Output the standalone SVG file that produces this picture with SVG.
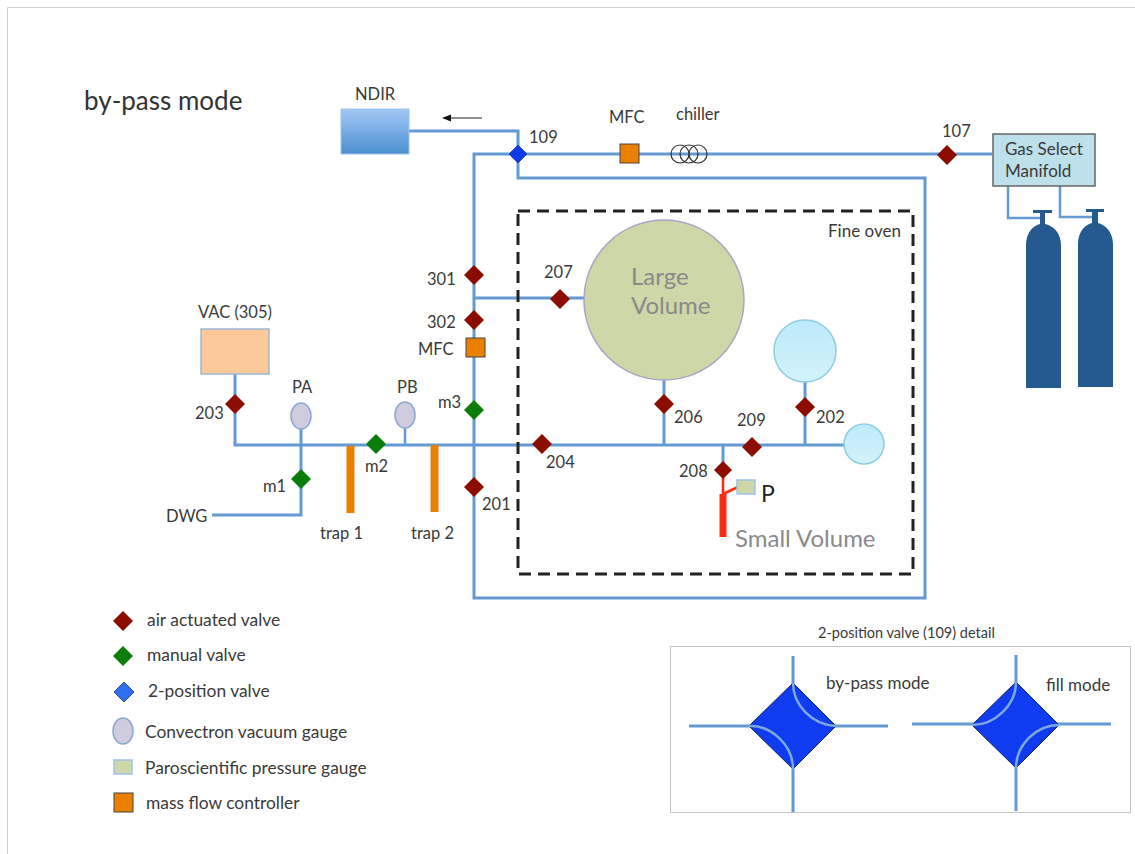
<svg xmlns="http://www.w3.org/2000/svg" width="1135" height="854" viewBox="0 0 1135 854">
<defs>
<linearGradient id="ndirG" x1="0" y1="0" x2="0" y2="1"><stop offset="0" stop-color="#a3c8f5"/><stop offset="1" stop-color="#4a8fd0"/></linearGradient>
<linearGradient id="sphG" x1="0" y1="0" x2="0" y2="1"><stop offset="0" stop-color="#bdeafa"/><stop offset="1" stop-color="#d3f2fb"/></linearGradient>
<polygon id="dia" points="0,-10 10,0 0,10 -10,0"/>
</defs>
<style>
text{font-family:Lato,"Open Sans",sans-serif;fill:#3a3a3a;font-size:16.5px}
.p{fill:none;stroke:#649ad2;stroke-width:3}
.ps{fill:none;stroke:#649ad2;stroke-width:2.500}
.a{fill:#8c0c00}
.m{fill:#0a7d0a}
.b{fill:#0f3cf0}
.mfc{fill:#ea7f00;stroke:#444;stroke-width:1}
.g{fill:#d0cce0;stroke:#8aa8d0;stroke-width:1.500}
.trap{fill:#ea7f00}
.cyl{fill:#255a90}
.arc{fill:none;stroke:#7da8da;stroke-width:2.500}
.big{font-size:24px;fill:#8a8a8a}
.mode{font-size:17px}
#legend text{font-size:17.400px}
</style>
<rect width="1135" height="854" fill="#fff"/>
<path d="M7.500 854V7.500H1135" fill="none" stroke="#cfcfcf"/>
<text x="84" y="110" style="font-size:26px;fill:#333">by-pass mode</text>
<g id="connectors">
<path class="p" d="M409 131H518V178H925V598H474V154H518M518 154H992"/>
<path class="p" d="M474 298H584"/>
<path class="p" d="M235 374V445H844"/>
<path class="p" d="M301 428V515H212"/>
<path class="ps" d="M405 428V445"/>
<path class="p" d="M664 372V445M805 380V445M723 445V470"/>
<path class="ps" d="M1008 186V218H1041M1060 186V217H1094"/>
<path d="M723 470V497" fill="none" stroke="#ff2a10" stroke-width="2.500"/>
<path d="M723 494L738 487" fill="none" stroke="#ff2a10" stroke-width="2.500"/>
<rect x="719.500" y="494" width="7" height="43" fill="#ff2a10"/>
<path d="M482 118H446" stroke="#222" stroke-width="1" fill="none"/>
<polygon points="442,118 451,114.500 451,121.500" fill="#111"/>
</g>
<g id="ndir"><rect x="341" y="109" width="68" height="45" fill="url(#ndirG)" stroke="#9cc4ea"/><text x="355" y="100">NDIR</text></g>
<g id="v109"><polygon points="518,145 527,154 518,163 509,154" class="b" stroke="#2a4a8a" stroke-width="1"/><text x="529" y="143">109</text></g>
<g id="mfc-top"><rect x="620" y="144" width="19" height="19" class="mfc"/><text x="609" y="123">MFC</text></g>
<g id="chiller" fill="none" stroke="#333" stroke-width="1.200"><circle cx="680" cy="154" r="9"/><circle cx="689" cy="154" r="9"/><circle cx="698" cy="154" r="9"/></g>
<text x="676" y="120">chiller</text>
<g id="v107"><use href="#dia" x="947" y="155" class="a"/><text x="942" y="137">107</text></g>
<g id="manifold"><rect x="993" y="134" width="102" height="52" fill="#bde0ea" stroke="#666" stroke-width="1.500"/><text x="1005" y="155" style="font-size:17px">Gas Select</text><text x="1005" y="177" style="font-size:17px">Manifold</text></g>
<g id="cyl1"><path class="cyl" d="M1026 388V245C1026 232 1034 225 1040 224V213H1033V210H1052V213H1045V224C1052 225 1061 232 1061 245V388Z"/></g>
<g id="cyl2"><path class="cyl" d="M1078 387V244C1078 231 1086 224 1092 223V212H1086V209H1104V212H1098V223C1104 224 1113 231 1113 244V387Z"/></g>
<g id="oven"><rect x="518" y="211" width="395" height="363" fill="none" stroke="#222" stroke-width="3" stroke-dasharray="12 7"/><text x="828" y="237" style="font-size:17px">Fine oven</text></g>
<g id="large"><circle cx="664" cy="300" r="80" fill="#cdd7a8" stroke="#a9a4c8" stroke-width="1.500"/><text x="631" y="285" class="big">Large</text><text x="631" y="314" class="big">Volume</text></g>
<g id="sph1"><circle cx="805" cy="351" r="31" fill="url(#sphG)" stroke="#8fcde0" stroke-width="1.500"/></g>
<g id="sph2"><circle cx="864" cy="444" r="20" fill="url(#sphG)" stroke="#8fcde0" stroke-width="1.500"/></g>
<g id="v301"><use href="#dia" x="474" y="275" class="a"/><text x="427" y="285">301</text></g>
<g id="v207"><use href="#dia" x="560" y="299" class="a"/><text x="544" y="278">207</text></g>
<g id="v302"><use href="#dia" x="474" y="320" class="a"/><text x="427" y="328">302</text></g>
<g id="mfc-mid"><rect x="466" y="338" width="19" height="19" class="mfc"/><text x="418" y="355">MFC</text></g>
<g id="m3"><use href="#dia" x="474" y="410" class="m"/><text x="438" y="408">m3</text></g>
<g id="v201"><use href="#dia" x="474" y="487" class="a"/><text x="482" y="510">201</text></g>
<g id="v204"><use href="#dia" x="542" y="444" class="a"/><text x="546" y="468">204</text></g>
<g id="v206"><use href="#dia" x="664" y="404" class="a"/><text x="674" y="423">206</text></g>
<g id="v209"><use href="#dia" x="752" y="447" class="a"/><text x="737" y="426">209</text></g>
<g id="v202"><use href="#dia" x="805" y="407" class="a"/><text x="816" y="423">202</text></g>
<g id="v208"><polygon points="723,461 732,470 723,479 714,470" class="a"/><text x="679" y="477">208</text></g>
<g id="pgauge"><rect x="737" y="480" width="18" height="14" fill="#cdd7a8" stroke="#9cc4ea" stroke-width="1.500"/><text x="761" y="502" style="font-size:23px;fill:#222">P</text></g>
<text x="735" y="547" class="big">Small Volume</text>
<g id="vac"><rect x="201" y="329" width="68" height="45" fill="#fdc99a" stroke="#9cb8d8" stroke-width="1.500"/><text x="198" y="318">VAC (305)</text></g>
<g id="v203"><use href="#dia" x="235" y="404" class="a"/><text x="195" y="419">203</text></g>
<g id="pa"><ellipse cx="301" cy="416" rx="10" ry="13" class="g"/><text x="292" y="393">PA</text></g>
<g id="pb"><ellipse cx="405" cy="415" rx="10" ry="13" class="g"/><text x="397" y="393">PB</text></g>
<g id="m1"><use href="#dia" x="301" y="479" class="m"/><text x="263" y="492">m1</text></g>
<g id="m2"><use href="#dia" x="376" y="444" class="m"/><text x="365" y="472">m2</text></g>
<text x="166" y="522">DWG</text>
<g id="trap1"><rect x="346.500" y="446" width="8" height="67" class="trap"/><text x="320" y="539">trap 1</text></g>
<g id="trap2"><rect x="430.500" y="445" width="8" height="67" class="trap"/><text x="411" y="539">trap 2</text></g>
<g id="legend">
<use href="#dia" x="123" y="621" class="a"/><text x="147" y="626">air actuated valve</text>
<use href="#dia" x="123" y="656" class="m"/><text x="147" y="661">manual valve</text>
<use href="#dia" x="124" y="692" fill="#2f6ff0" stroke="#2a4a8a"/><text x="148" y="697">2-position valve</text>
<ellipse cx="123" cy="731" rx="10" ry="13" class="g"/><text x="145" y="738">Convectron vacuum gauge</text>
<rect x="114" y="760" width="18" height="14" fill="#cdd7a8" stroke="#9cc4ea" stroke-width="1.500"/><text x="145" y="774">Paroscientific pressure gauge</text>
<rect x="114" y="793" width="19" height="19" class="mfc"/><text x="146" y="809">mass flow controller</text>
</g>
<g id="detail">
<text x="818" y="638" style="font-size:14.500px">2-position valve (109) detail</text>
<rect x="670.500" y="646.500" width="460" height="166" fill="none" stroke="#888" stroke-dasharray="1 1"/>
<g id="d1"><path class="p" d="M689 726H888M793 656V812"/><polygon points="793,683 836,726 793,769 749,726" fill="#0f3cf0" stroke="#102060" stroke-width="1"/><path class="arc" d="M793 683C793 705 812 725 836 726M749 726C771 725 793 745 793 769"/><text x="826" y="689" class="mode">by-pass mode</text></g>
<g id="d2"><path class="p" d="M912 724H1111M1016 655V811"/><polygon points="1016,682 1059,725 1016,768 972,725" fill="#0f3cf0" stroke="#102060" stroke-width="1"/><path class="arc" d="M1016 682C1016 705 995 725 972 725M1059 725C1036 725 1016 745 1016 768"/><text x="1046" y="691" class="mode">fill mode</text></g>
</g>
</svg>
